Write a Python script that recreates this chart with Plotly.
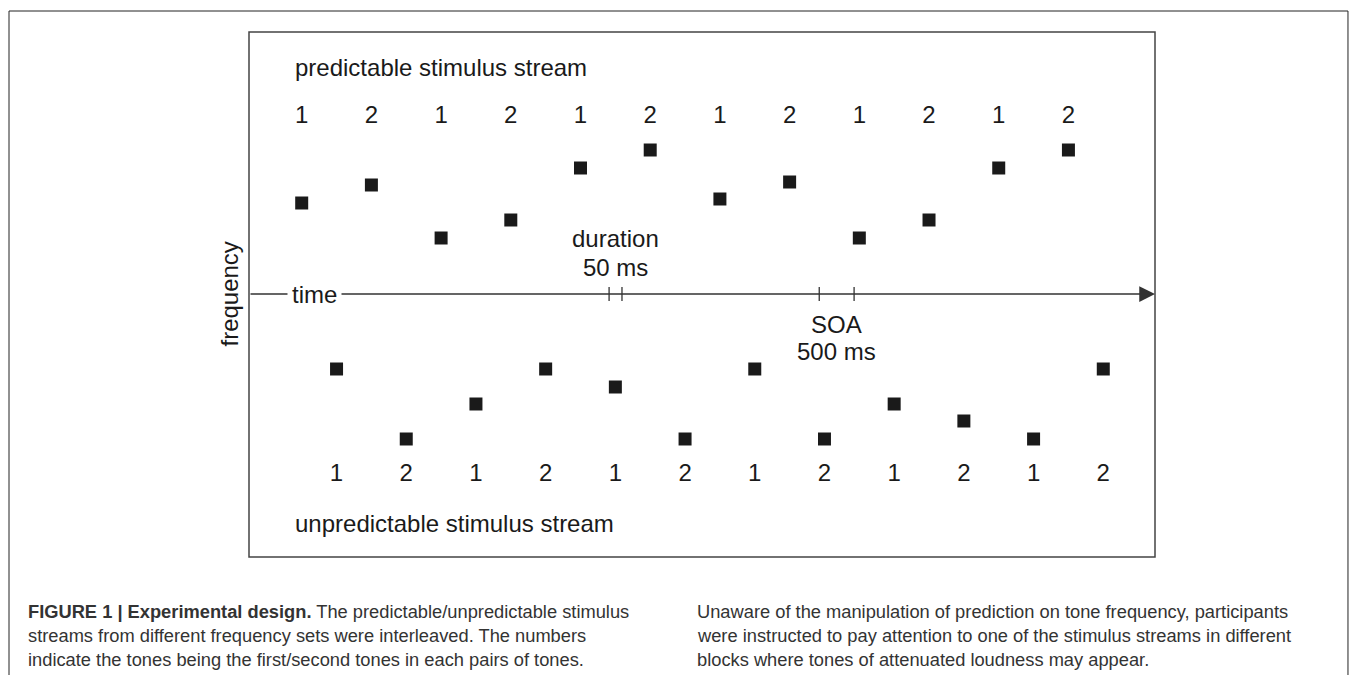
import plotly.graph_objects as go

# tone onsets (ms) and frequencies (arbitrary units, 0 = time axis)
pred_time = [0, 1000, 2000, 3000, 4000, 5000, 6000, 7000, 8000, 9000, 10000, 11000]
pred_freq = [91, 109, 56, 74, 126, 144, 95, 112, 56, 74, 126, 144]
pred_label = ['1', '2', '1', '2', '1', '2', '1', '2', '1', '2', '1', '2']

unpred_time = [500, 1500, 2500, 3500, 4500, 5500, 6500, 7500, 8500, 9500, 10500, 11500]
unpred_freq = [-75, -145, -110, -75, -93, -145, -75, -145, -110, -127, -145, -75]
unpred_label = ['1', '2', '1', '2', '1', '2', '1', '2', '1', '2', '1', '2']

duration_ticks = [4410, 4595]
soa_ticks = [7425, 7925]

caption_left = ['<b>FIGURE 1 | Experimental design.</b> The predictable/unpredictable stimulus',
                'streams from different frequency sets were interleaved. The numbers',
                'indicate the tones being the first/second tones in each pairs of tones.']
caption_right = ['Unaware of the manipulation of prediction on tone frequency, participants',
                 'were instructed to pay attention to one of the stimulus streams in different',
                 'blocks where tones of attenuated loudness may appear.']

FONT = 'Liberation Sans, Arial, sans-serif'
INK = '#1a1a1a'
XR = [-756, 12242]
YR = [-263, 262]

fig = go.Figure()

fig.add_trace(go.Scatter(x=pred_time, y=pred_freq, mode='markers',
                         marker=dict(symbol='square', size=13, color=INK),
                         hoverinfo='skip', showlegend=False))
fig.add_trace(go.Scatter(x=unpred_time, y=unpred_freq, mode='markers',
                         marker=dict(symbol='square', size=13, color=INK),
                         hoverinfo='skip', showlegend=False))

# 1/2 labels above and below
fig.add_trace(go.Scatter(x=pred_time, y=[177] * len(pred_time), mode='text',
                         text=pred_label, textfont=dict(size=24, color=INK, family=FONT),
                         hoverinfo='skip', showlegend=False))
fig.add_trace(go.Scatter(x=unpred_time, y=[-181] * len(unpred_time), mode='text',
                         text=unpred_label, textfont=dict(size=24, color=INK, family=FONT),
                         hoverinfo='skip', showlegend=False))

# time axis with arrow
fig.add_annotation(x=XR[1], y=0, ax=XR[0], ay=0, xref='x', yref='y', axref='x', ayref='y',
                   text='', showarrow=True, arrowhead=2, arrowsize=2.1, arrowwidth=1.5,
                   arrowcolor='#333333', standoff=0, startstandoff=0)

for t in duration_ticks + soa_ticks:
    fig.add_shape(type='line', x0=t, x1=t, y0=-7, y1=7, xref='x', yref='y',
                  line=dict(color='#333333', width=1.3))

fig.add_annotation(x=-205, y=0, text='time', showarrow=False, xanchor='left',
                   bgcolor='white', borderpad=4,
                   font=dict(size=24, color=INK, family=FONT))

fig.add_annotation(x=sum(duration_ticks) / 2, y=56, text='duration', showarrow=False,
                   font=dict(size=24, color=INK, family=FONT))
fig.add_annotation(x=sum(duration_ticks) / 2, y=27, text='50 ms', showarrow=False,
                   font=dict(size=24, color=INK, family=FONT))
fig.add_annotation(x=sum(soa_ticks) / 2, y=-30, text='SOA', showarrow=False,
                   font=dict(size=24, color=INK, family=FONT))
fig.add_annotation(x=sum(soa_ticks) / 2, y=-57, text='500 ms', showarrow=False,
                   font=dict(size=24, color=INK, family=FONT))

fig.add_annotation(x=-129, y=227, text='predictable stimulus stream', showarrow=False,
                   xanchor='left', font=dict(size=24, color=INK, family=FONT))
fig.add_annotation(x=-129, y=-229, text='unpredictable stimulus stream', showarrow=False,
                   xanchor='left', font=dict(size=24, color=INK, family=FONT))

fig.add_annotation(x=-0.0397, y=0, xref='paper', yref='y', text='frequency', textangle=-90,
                   showarrow=False, font=dict(size=24, color=INK, family=FONT))

# caption below the figure
for i, line in enumerate(caption_left):
    fig.add_annotation(x=-0.2461, y=(557 - 611 - 24 * i) / 525, xref='paper', yref='paper',
                       text=line, showarrow=False, xanchor='left', yanchor='middle',
                       font=dict(size=18.3, color='#333333', family=FONT))
for i, line in enumerate(caption_right):
    fig.add_annotation(x=0.4923, y=(557 - 611 - 24 * i) / 525, xref='paper', yref='paper',
                       text=line, showarrow=False, xanchor='left', yanchor='middle',
                       font=dict(size=18.3, color='#333333', family=FONT))

# inner box and outer frame
fig.add_shape(type='rect', x0=0, x1=1, y0=0, y1=1, xref='paper', yref='paper',
              line=dict(color='#444444', width=1.5))
fig.add_shape(type='rect', x0=-0.2649, x1=1.2130, y0=-0.30, y1=1.04, xref='paper', yref='paper',
              line=dict(color='#222222', width=1))

fig.update_xaxes(range=XR, visible=False, fixedrange=True)
fig.update_yaxes(range=YR, visible=False, fixedrange=True)

fig.update_layout(width=1353, height=675,
                  margin=dict(l=249, r=198, t=32, b=118),
                  plot_bgcolor='white', paper_bgcolor='white',
                  font=dict(family=FONT))

# drop the default page margin so the figure fills the window exactly
fig.write_html('out.html', config=dict(displayModeBar=False),
               post_script="document.body.style.margin='0';document.body.style.overflow='hidden';")
